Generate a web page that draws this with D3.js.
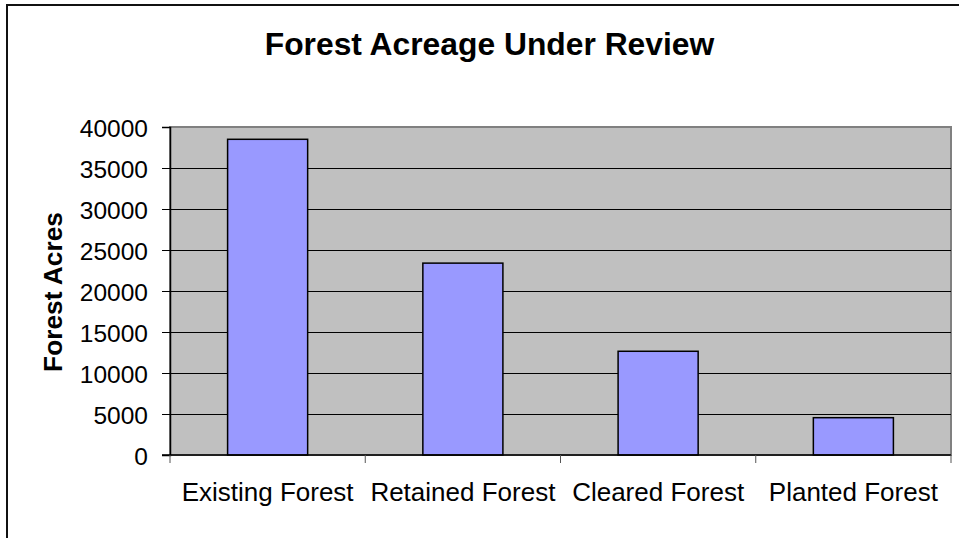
<!DOCTYPE html>
<meta charset="utf-8">
<style>
    html, body { margin:0; padding:0; overflow:hidden; background:#fff; }
    text { font-family: Arial, "Liberation Sans", sans-serif; fill:#000; }
</style>
<svg id="mainsvg" width="959" height="538"></svg>
<script src="https://cdn.jsdelivr.net/npm/d3@7"></script>
<script>

    // chart data
    var categories = ["Existing Forest", "Retained Forest", "Cleared Forest", "Planted Forest"];
    var acres = [38500, 23400, 12650, 4550];
    var yTicks = [0, 5000, 10000, 15000, 20000, 25000, 30000, 35000, 40000];

    var chartTitle = "Forest Acreage Under Review";
    var yTitle = "Forest Acres";

    var svg = d3.select("#mainsvg");

    var plotLeft = 170, plotRight = 951,
        plotTop = 127, plotBottom = 455;

    // outer chart frame (runs off the right/bottom of the picture)
    svg.append("rect")
        .attr("x", 7).attr("y", 5)
        .attr("width", 1000).attr("height", 600)
        .attr("fill", "#fff")
        .attr("stroke", "#111")
        .attr("stroke-width", 2);

    var x = d3.scaleBand()
        .domain(categories)
        .range([plotLeft, plotRight])
        .paddingInner(0.59)
        .paddingOuter(0.295);

    var y = d3.scaleLinear()
        .domain([0, 40000])
        .range([plotBottom, plotTop]);

    // plot area
    svg.append("rect")
        .attr("x", plotLeft).attr("y", plotTop)
        .attr("width", plotRight - plotLeft)
        .attr("height", plotBottom - plotTop)
        .attr("fill", "#c0c0c0")
        .attr("stroke", "#808080")
        .attr("stroke-width", 2);

    // gridlines (half pixel so they stay sharp)
    svg.append("g")
        .selectAll("line")
        .data(yTicks.filter(function(d) { return d > 0 && d < 40000; }))
        .enter().append("line")
        .attr("x1", plotLeft).attr("x2", plotRight)
        .attr("y1", function(d) { return Math.round(y(d)) + 0.5; })
        .attr("y2", function(d) { return Math.round(y(d)) + 0.5; })
        .attr("stroke", "#000")
        .attr("stroke-width", 1);

    // bars
    svg.append("g")
        .selectAll("rect")
        .data(acres)
        .enter().append("rect")
        .attr("x", function(d, i) { return x(categories[i]); })
        .attr("y", function(d) { return y(d); })
        .attr("width", x.bandwidth())
        .attr("height", function(d) { return plotBottom - y(d); })
        .attr("fill", "#9999ff")
        .attr("stroke", "#000")
        .attr("stroke-width", 1.5);

    // y axis
    var yAxis = svg.append("g")
        .attr("transform", "translate(" + plotLeft + ",0)")
        .call(d3.axisLeft(y).tickValues(yTicks).tickSize(8).tickPadding(14).tickFormat(d3.format("d")));
    yAxis.select(".domain").attr("stroke", "#000").attr("stroke-width", 1.5);
    yAxis.selectAll(".tick line").attr("stroke", "#000").attr("stroke-width", 1);
    yAxis.selectAll("text")
        .attr("font-size", "24.5px")
        .attr("font-family", "Arial, 'Liberation Sans', sans-serif")
        .attr("fill", "#000")
        .attr("dy", "0.37em");

    // x axis: ticks sit on the category boundaries
    var xAxis = svg.append("g")
        .attr("transform", "translate(0," + plotBottom + ")");
    var bounds = d3.range(categories.length + 1).map(function(i) {
        return plotLeft + i * x.step();
    });
    xAxis.append("line")
        .attr("x1", plotLeft - 8).attr("x2", plotRight)
        .attr("y1", 0).attr("y2", 0)
        .attr("stroke", "#000").attr("stroke-width", 1.5);
    xAxis.selectAll(".xtick")
        .data(bounds)
        .enter().append("line")
        .attr("class", "xtick")
        .attr("x1", function(d) { return d; })
        .attr("x2", function(d) { return d; })
        .attr("y1", 0).attr("y2", 8)
        .attr("stroke", "#555").attr("stroke-width", 1);
    xAxis.selectAll(".xlab")
        .data(categories)
        .enter().append("text")
        .attr("class", "xlab")
        .attr("x", function(d) { return x(d) + x.bandwidth() / 2; })
        .attr("y", 46)
        .attr("text-anchor", "middle")
        .attr("font-size", "26px")
        .text(function(d) { return d; });

    // titles
    svg.append("text")
        .attr("x", 489.5).attr("y", 55)
        .attr("text-anchor", "middle")
        .attr("font-size", "31.8px")
        .attr("font-weight", "bold")
        .text(chartTitle);

    svg.append("text")
        .attr("transform", "translate(62,292) rotate(-90)")
        .attr("text-anchor", "middle")
        .attr("font-size", "26.3px")
        .attr("font-weight", "bold")
        .text(yTitle);

</script>
